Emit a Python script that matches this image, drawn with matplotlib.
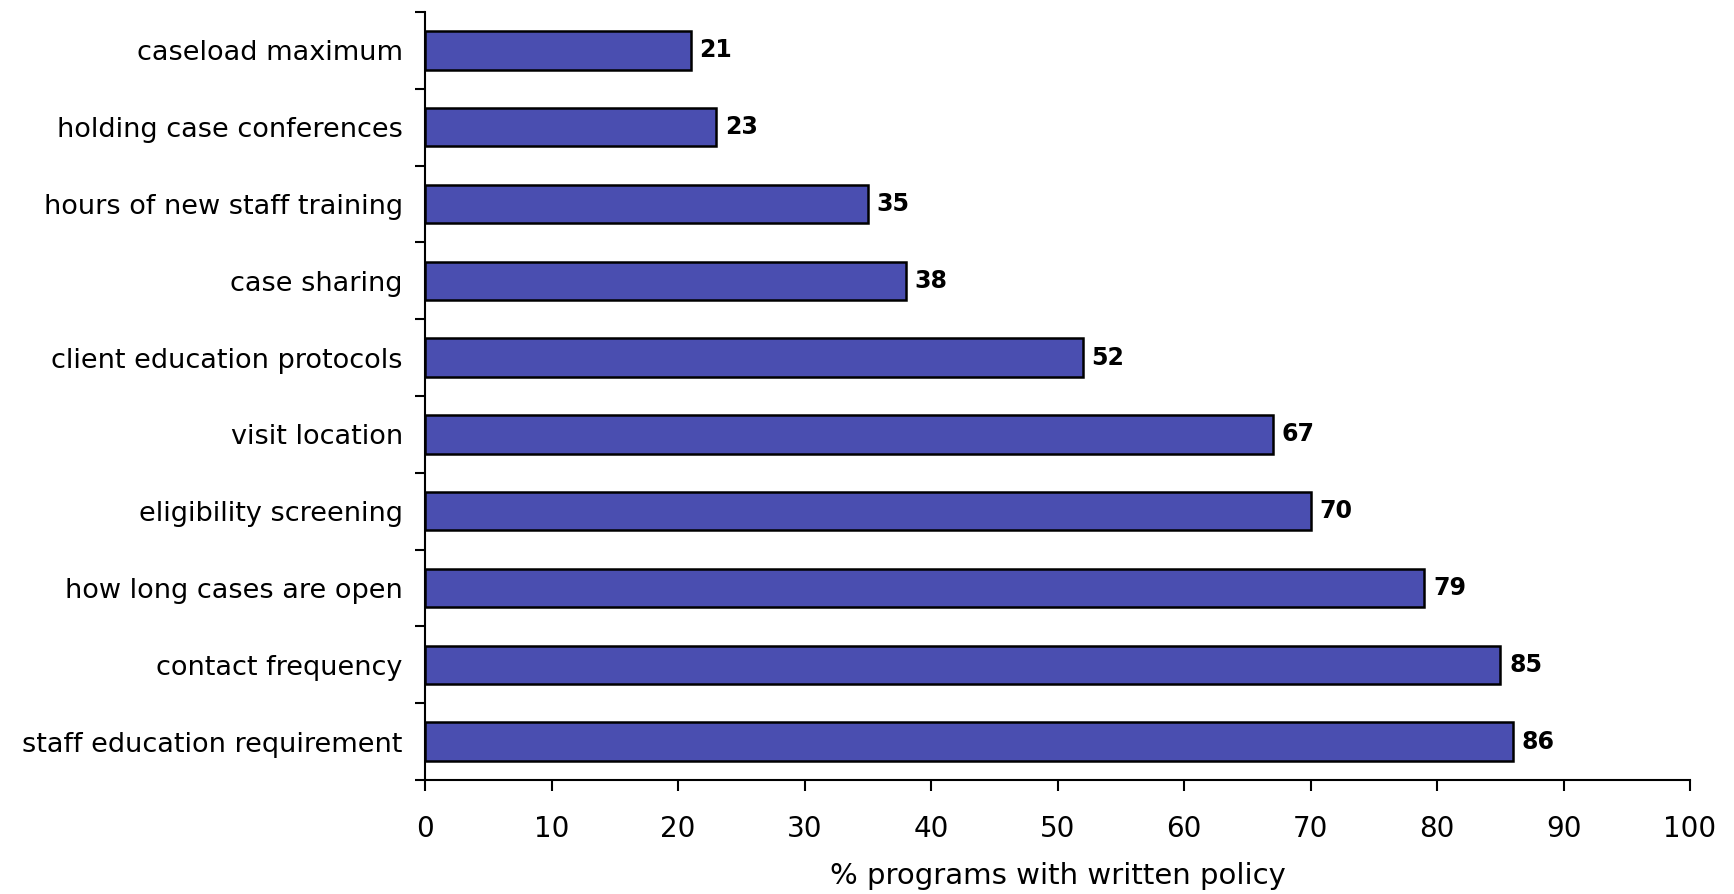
import numpy as np
import matplotlib.pyplot as plt
from matplotlib.ticker import FixedLocator, NullFormatter

plt.rcParams['font.family'] = 'DejaVu Sans'

# Policies, listed top to bottom
policies = ['caseload maximum', 'holding case conferences', 'hours of new staff training',
            'case sharing', 'client education protocols', 'visit location',
            'eligibility screening', 'how long cases are open', 'contact frequency',
            'staff education requirement']
pct_written = [21, 23, 35, 38, 52, 67, 70, 79, 85, 86]

fig = plt.figure(figsize=(17.34, 8.94), dpi=100)
ax = fig.add_axes([425 / 1734, 1 - 780 / 894, (1690 - 425) / 1734, (780 - 12) / 894])

n = len(policies)
ypos = np.arange(n)[::-1]
ax.barh(ypos, pct_written, height=0.5, color='#4A4EB0', edgecolor='black', linewidth=1.8, zorder=3)

for y, v in zip(ypos, pct_written):
    ax.text(v + 0.7, y, str(v), va='center', ha='left', fontsize=17, fontweight='bold')

ax.set_xlim(0, 100)
ax.set_ylim(-0.5, n - 0.5)
ax.set_xticks(range(0, 101, 10))
ax.tick_params(axis='x', direction='out', length=8, width=1.5, pad=17, labelsize=20)

# boundary ticks between categories, labels centred on bars
ax.yaxis.set_major_locator(FixedLocator(np.arange(-0.5, n, 1.0)))
ax.yaxis.set_major_formatter(NullFormatter())
ax.set_yticks(ypos, minor=True)
ax.set_yticklabels(policies, minor=True)
ax.tick_params(axis='y', which='major', direction='out', length=7, width=1.5)
ax.tick_params(axis='y', which='minor', length=0, pad=16, labelsize=19.5)

for s in ['top', 'right']:
    ax.spines[s].set_visible(False)
for s in ['left', 'bottom']:
    ax.spines[s].set_linewidth(1.5)

ax.set_xlabel('% programs with written policy', fontsize=21, labelpad=14)

fig.savefig('out.png', dpi=100)
